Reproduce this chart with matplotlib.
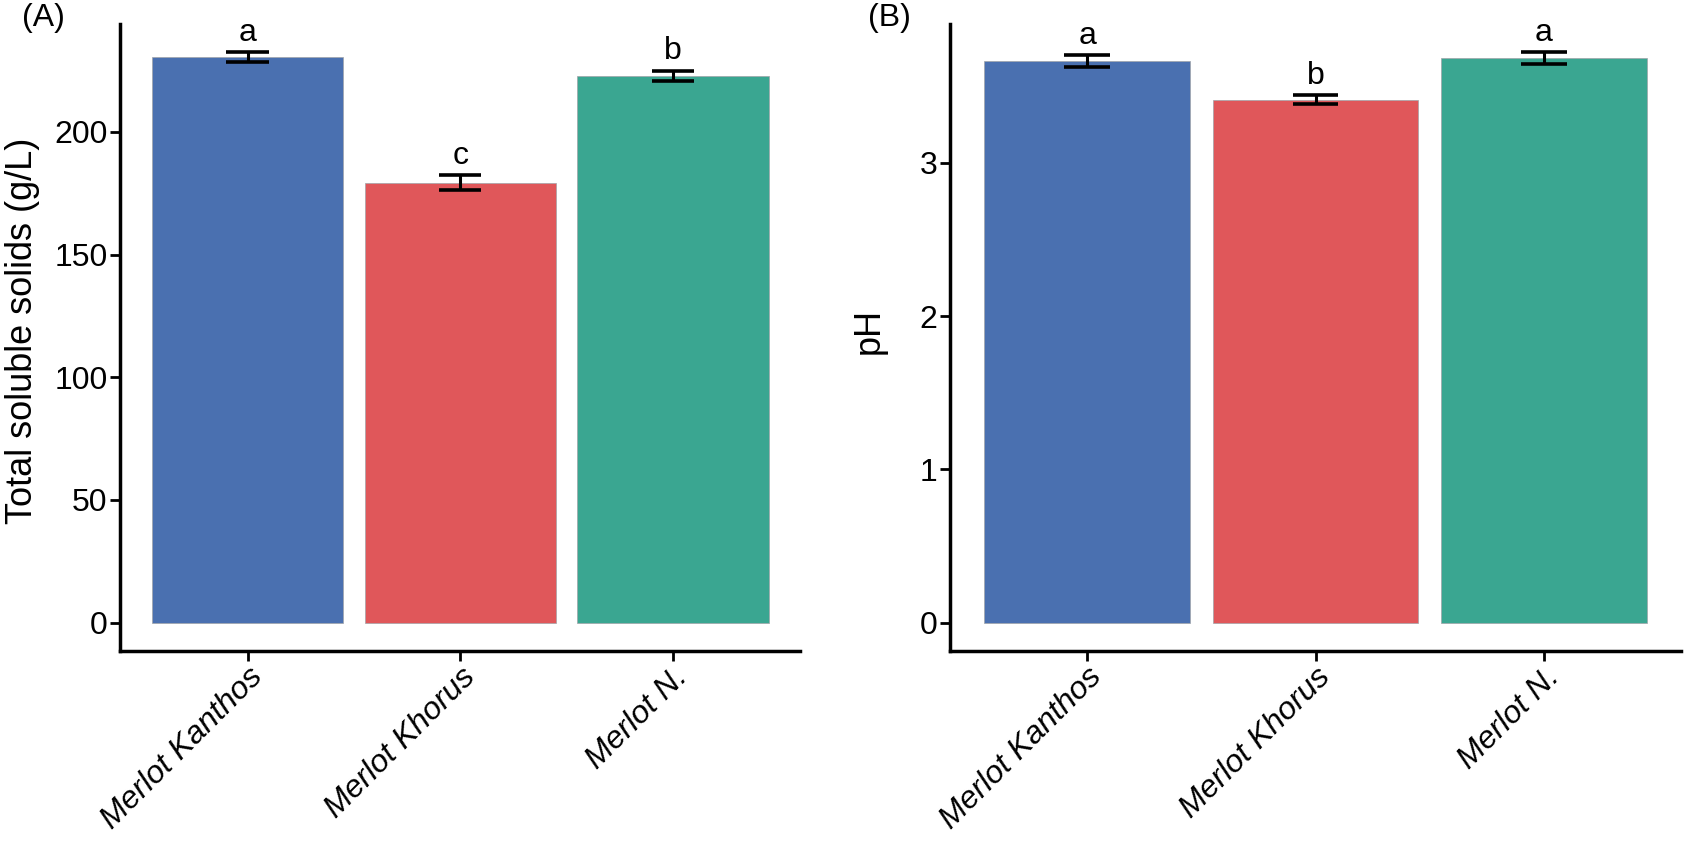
import matplotlib
matplotlib.use('Agg')
import matplotlib.pyplot as plt

plt.rcParams['font.family'] = ['Liberation Sans', 'DejaVu Sans']

cultivars = ['Merlot Kanthos', 'Merlot Khorus', 'Merlot N.']
colors = ['#4a70b0', '#e0575a', '#3aa691']

# total soluble solids (g/L)
tss_mean = [230.4, 179.3, 222.8]
tss_err = [2.0, 3.1, 2.2]
tss_letters = ['a', 'c', 'b']

# pH
ph_mean = [3.666, 3.414, 3.683]
ph_err = [0.038, 0.027, 0.038]
ph_letters = ['a', 'b', 'a']


def bar_panel(ax, means, errs, letters, ylabel, yticks, label_x):
    x = list(range(1, len(means) + 1))
    ax.bar(x, means, width=0.9, color=colors, edgecolor='#a0a4a8', linewidth=0.5, zorder=2)
    ax.vlines(x, [m - e for m, e in zip(means, errs)], [m + e for m, e in zip(means, errs)],
              color='black', linewidth=2.2, zorder=3)
    for xi, m, e in zip(x, means, errs):
        ax.hlines([m - e, m + e], xi - 0.1, xi + 0.1, color='black', linewidth=2.6, zorder=3)
    for xi, m, e, l in zip(x, means, errs, letters):
        ax.annotate(l, (xi, m + e), xytext=(0, 3), textcoords='offset points',
                    ha='center', va='bottom', fontsize=23)
    top = max(m + e for m, e in zip(means, errs))
    ax.set_ylim(-0.05 * top, 1.05 * top)
    ax.set_xlim(0.4, len(means) + 0.6)
    ax.set_yticks(yticks)
    ax.set_xticks(x)
    ax.set_xticklabels(cultivars, rotation=45, ha='right', va='top',
                       rotation_mode='anchor', fontstyle='italic', fontsize=23)
    ax.tick_params(axis='y', labelsize=23, length=7, width=2, pad=2)
    ax.tick_params(axis='x', length=7, width=2, pad=1)
    ax.set_ylabel(ylabel, fontsize=26)
    ax.yaxis.set_label_coords(label_x, 0.51)
    for s in ['top', 'right']:
        ax.spines[s].set_visible(False)
    for s in ['left', 'bottom']:
        ax.spines[s].set_linewidth(2.5)


fig = plt.figure(figsize=(16.92, 8.41), dpi=100)
ax1 = fig.add_axes([0.0709, 0.2259, 0.4022, 0.7456])
ax2 = fig.add_axes([0.5615, 0.2259, 0.4320, 0.7456])

bar_panel(ax1, tss_mean, tss_err, tss_letters, 'Total soluble solids (g/L)',
          [0, 50, 100, 150, 200], -0.118)
bar_panel(ax2, ph_mean, ph_err, ph_letters, 'pH', [0, 1, 2, 3], -0.086)

fig.text(0.013, 0.996, '(A)', fontsize=23, va='top', ha='left')
fig.text(0.513, 0.996, '(B)', fontsize=23, va='top', ha='left')

fig.savefig('out.png', dpi=100)
